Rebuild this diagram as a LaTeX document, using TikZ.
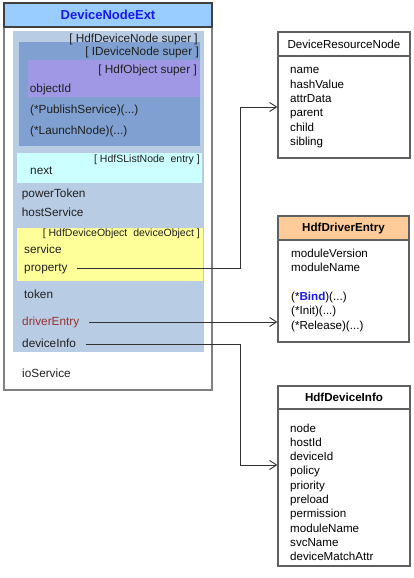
\documentclass[tikz,border=0pt]{standalone}
\usepackage{fontspec}
\setmainfont{Liberation Sans}
\usetikzlibrary{arrows.meta}
\definecolor{hdrblue}{HTML}{99CCFF}
\definecolor{titleblue}{HTML}{1A1AF0}
\definecolor{outerblue}{HTML}{B8CCE4}
\definecolor{midblue}{HTML}{7FA0D0}
\definecolor{lav}{HTML}{A098E4}
\definecolor{cyanl}{HTML}{CCFFFF}
\definecolor{yel}{HTML}{FFFF99}
\definecolor{peach}{HTML}{FFCC99}
\definecolor{drvred}{HTML}{993333}
\definecolor{txt}{HTML}{202020}
\definecolor{bord}{HTML}{606060}
\begin{document}
\begin{tikzpicture}[x=1pt,y=-1pt,
  item/.style={anchor=base west, inner sep=0pt, font=\fontsize{11.8}{14}\selectfont, text=txt},
  ritem/.style={anchor=base west, inner sep=0pt, font=\fontsize{11.6}{14}\selectfont, text=black},
  lab/.style={anchor=base east, inner sep=0pt, font=\fontsize{11.8}{14}\selectfont, text=txt},
  slab/.style={anchor=base east, inner sep=0pt, font=\fontsize{10.5}{12}\selectfont, text=txt},
  rbox/.style={draw=bord, line width=1.2pt, rectangle, inner sep=0pt},
  rtitle/.style={inner sep=0pt, font=\fontsize{11.6}{14}\selectfont, text=black},
  conn/.style={draw=black!80, line width=0.9pt},
  arr/.style={-{Straight Barb[length=7pt,width=9pt]}}
]
\useasboundingbox (0,0) rectangle (413,578);
\fill[white] (0,0) rectangle (413,578);

% main box
\node[draw=black!50, line width=1.4pt, minimum width=208pt, minimum height=387pt, inner sep=0pt] (mainbox) at (108,196.5) {};
\node[draw=black!75, line width=1.2pt, fill=hdrblue, minimum width=208pt, minimum height=24pt, inner sep=0pt,
      text=titleblue, font=\fontsize{13}{15}\selectfont\bfseries] (mainhdr) at (108,15) {DeviceNodeExt};

% nested regions
\fill[outerblue] (13,31) rectangle (204,352);
\fill[midblue] (19,42) rectangle (200,146);
\fill[lav] (28,60) rectangle (200,97);
\fill[cyanl] (17,153) rectangle (202,183);
\fill[yel] (17,228) rectangle (203,281);

% left texts
\node[lab] (l1) at (198,42.3) {[ HdfDeviceNode super ]};
\node[lab] (l2) at (199,55.7) {[ IDeviceNode super ]};
\node[lab] (l3) at (197,73.3) {[ HdfObject super ]};
\node[item] (objid) at (29.7,92.3) {objectId};
\node[item] (pub) at (30,113.3) {(*PublishService)(...)};
\node[item] (launch) at (30,134.7) {(*LaunchNode)(...)};
\node[slab] (l4) at (200,162.3) {[ HdfSListNode\ \ entry ]};
\node[item] (next) at (30,174.5) {next};
\node[item] (ptok) at (21.7,197.3) {powerToken};
\node[item] (hsvc) at (21.7,216.3) {hostService};
\node[slab] (l5) at (200,236.7) {[ HdfDeviceObject\ \ deviceObject ]};
\node[item] (svc) at (24,253.5) {service};
\node[item] (prop) at (24,271.5) {property};
\node[item] (tok) at (24,298.3) {token};
\node[item, text=drvred] (drv) at (22,325) {driverEntry};
\node[item] (dinfo) at (22,347.7) {deviceInfo};
\node[item] (iosvc) at (22,377.3) {ioService};

% DeviceResourceNode
\node[rbox, minimum width=132pt, minimum height=126pt] (drn) at (344,95) {};
\draw[bord, line width=1.2pt] (278,56) -- (410,56);
\node[rtitle] (drnT) at (344,44) {DeviceResourceNode};
\foreach \t [count=\i] in {name,hashValue,attrData,parent,child,sibling}
  \node[ritem] (drn-\i) at (290,74+14.3*\i-14.3) {\t};

% HdfDriverEntry
\fill[peach] (278,216) rectangle (409,240);
\node[rbox, minimum width=131pt, minimum height=126pt] (hde) at (343.5,279) {};
\draw[bord, line width=1.2pt] (278,240) -- (409,240);
\node[rtitle, font=\fontsize{11.6}{14}\selectfont\bfseries] (hdeT) at (343.5,228) {HdfDriverEntry};
\node[ritem] (hde-1) at (291,257) {moduleVersion};
\node[ritem] (hde-2) at (291,271.5) {moduleName};
\node[ritem] (hde-3) at (291,300) {(*{\bfseries\color{titleblue}Bind})(...)};
\node[ritem] (hde-4) at (291,314.5) {(*Init)(...)};
\node[ritem] (hde-5) at (291,329) {(*Release)(...)};

% HdfDeviceInfo
\node[rbox, minimum width=132pt, minimum height=180pt] (hdi) at (344,476) {};
\draw[bord, line width=1.2pt] (278,409) -- (410,409);
\node[rtitle, font=\fontsize{11.6}{14}\selectfont\bfseries] (hdiT) at (344,397) {HdfDeviceInfo};
\foreach \t [count=\i] in {node,hostId,deviceId,policy,priority,preload,permission,moduleName,svcName,deviceMatchAttr}
  \node[ritem] (hdi-\i) at (290,432+14.3*\i-14.3) {\t};

% connectors
\coordinate (pS) at ([xshift=9.5pt,yshift=3pt]prop.base east);
\coordinate (bA) at (240,107);
\draw[conn,arr] (pS) -| (bA) -- (bA -| drn.west);
\coordinate (dS) at ([xshift=10pt,yshift=3pt]drv.base east);
\draw[conn,arr] (dS) -- (dS -| hde.west);
\coordinate (iS) at ([xshift=9.5pt,yshift=3pt]dinfo.base east);
\coordinate (bC) at (240,465);
\draw[conn,arr] (iS) -| (bC) -- (bC -| hdi.west);
\end{tikzpicture}
\end{document}
